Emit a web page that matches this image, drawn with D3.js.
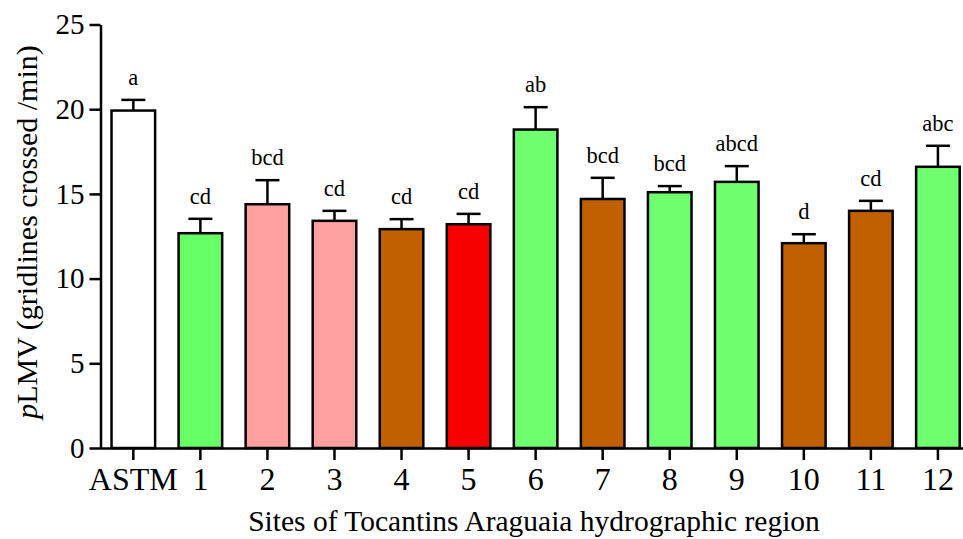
<!doctype html>
<html>
  <head>
    <script src="https://cdnjs.cloudflare.com/ajax/libs/d3/7.8.5/d3.min.js"></script>
    <style>
      body { margin: 0; background: #fff; }
      text { font-family: "Liberation Serif", "Times New Roman", serif; fill: #000; }
    </style>
  </head>
  <body>
    <svg id="chart" width="963" height="539"></svg>
    <script>
      // data
      var sites = ["ASTM", "1", "2", "3", "4", "5", "6", "7", "8", "9", "10", "11", "12"];
      var means = [19.92, 12.68, 14.39, 13.41, 12.92, 13.21, 18.8, 14.7, 15.1, 15.71, 12.09, 14.0, 16.6];
      var sems = [0.63, 0.85, 1.42, 0.59, 0.59, 0.61, 1.32, 1.25, 0.36, 0.93, 0.53, 0.59, 1.24];
      var letters = ["a", "cd", "bcd", "cd", "cd", "cd", "ab", "bcd", "bcd", "abcd", "d", "cd", "abc"];
      var fills = ["#ffffff", "#66ff66", "#ffa0a0", "#ffa0a0", "#c06000", "#f70000", "#6fff6f",
                   "#c06000", "#6fff6f", "#6fff6f", "#c06000", "#c06000", "#6fff6f"];
      var yTicks = [0, 5, 10, 15, 20, 25];

      var data = sites.map((s, i) => ({site: s, mean: means[i], sem: sems[i], letter: letters[i], fill: fills[i]}));

      var svg = d3.select("#chart");

      var x = d3.scaleBand()
        .domain(sites)
        .range([99.8, 99.8 + 13 * 67.05])
        .paddingInner(0.35)
        .paddingOuter(0.175);

      var y = d3.scaleLinear()
        .domain([0, 25])
        .range([448, 24.5]);

      // bars
      svg.selectAll("rect.bar")
        .data(data)
        .enter()
        .append("rect")
          .attr("class", "bar")
          .attr("x", d => x(d.site))
          .attr("y", d => y(d.mean))
          .attr("width", x.bandwidth())
          .attr("height", d => y(0) - y(d.mean))
          .style("fill", d => d.fill)
          .style("stroke", "#000")
          .style("stroke-width", 2.5);

      // error bars (upper only)
      var err = svg.selectAll("g.err")
        .data(data)
        .enter()
        .append("g")
          .attr("class", "err")
          .style("stroke", "#000")
          .style("stroke-width", 2.5);

      err.append("line")
        .attr("x1", d => x(d.site) + x.bandwidth() / 2)
        .attr("x2", d => x(d.site) + x.bandwidth() / 2)
        .attr("y1", d => y(d.mean))
        .attr("y2", d => y(d.mean + d.sem));

      err.append("line")
        .attr("x1", d => x(d.site) + x.bandwidth() / 2 - 12)
        .attr("x2", d => x(d.site) + x.bandwidth() / 2 + 12)
        .attr("y1", d => y(d.mean + d.sem))
        .attr("y2", d => y(d.mean + d.sem));

      // significance letters
      svg.selectAll("text.letter")
        .data(data)
        .enter()
        .append("text")
          .attr("class", "letter")
          .attr("x", d => x(d.site) + x.bandwidth() / 2)
          .attr("y", d => y(d.mean + d.sem) - 15)
          .attr("text-anchor", "middle")
          .style("font-size", "22.5px")
          .text(d => d.letter);

      // axes
      var xAxis = svg.append("g")
        .attr("transform", "translate(0," + y(0) + ")")
        .call(d3.axisBottom(x).tickSize(12).tickSizeOuter(0).tickPadding(7));

      var yAxis = svg.append("g")
        .attr("transform", "translate(100.5,0)")
        .call(d3.axisLeft(y).tickValues(yTicks).tickSize(11).tickSizeOuter(0).tickPadding(5));

      svg.selectAll(".domain, .tick line")
        .style("stroke", "#000")
        .style("stroke-width", 2.5);

      xAxis.selectAll("text")
        .style("font-family", "'Liberation Serif', serif")
        .style("font-size", "32px");

      yAxis.selectAll("text")
        .style("font-family", "'Liberation Serif', serif")
        .style("font-size", "29px");

      // axis titles
      svg.append("text")
        .attr("x", 534)
        .attr("y", 531)
        .attr("text-anchor", "middle")
        .style("font-size", "29.5px")
        .text("Sites of Tocantins Araguaia hydrographic region");

      var yTitle = svg.append("text")
        .attr("transform", "translate(37,232) rotate(-90)")
        .attr("text-anchor", "middle")
        .style("font-size", "30px");
      yTitle.append("tspan").style("font-style", "italic").text("p");
      yTitle.append("tspan").text("LMV (gridlines crossed /min)");
    </script>
  </body>
</html>
